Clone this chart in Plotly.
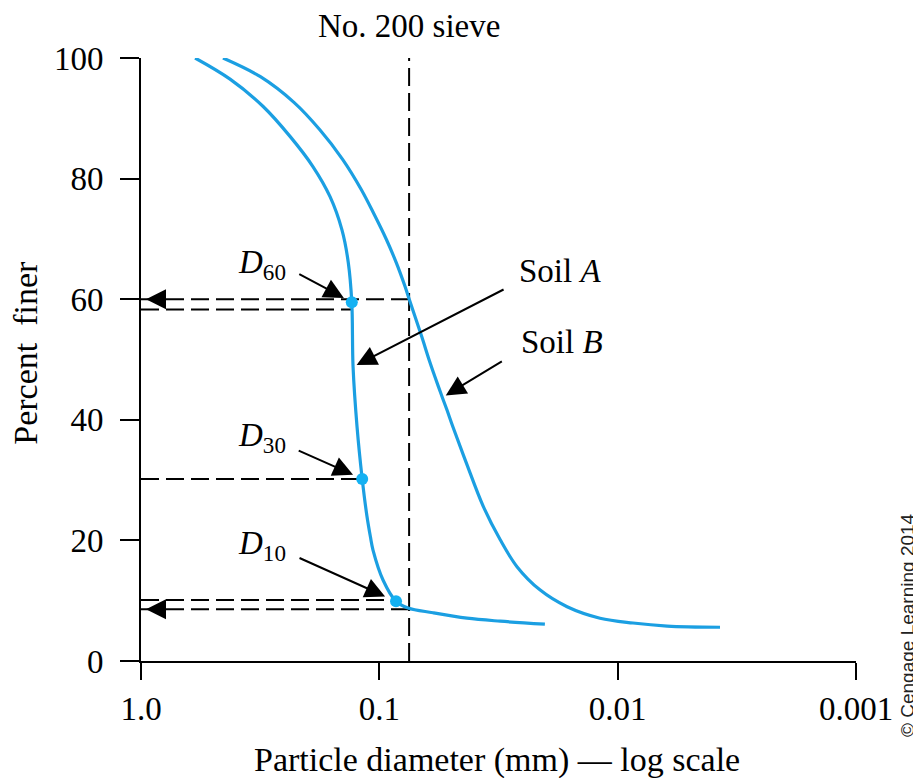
import numpy as np
import plotly.graph_objects as go

# ---------------- data ----------------
soil_a_diam = [0.593, 0.423, 0.308, 0.237, 0.190, 0.161, 0.1435, 0.135, 0.1305,
               0.1289, 0.124, 0.118, 0.1127, 0.1090, 0.1063, 0.0964, 0.0851, 0.0758,
               0.0596, 0.0429, 0.0311, 0.0202]
soil_a_finer = [100, 96.5, 92.0, 87.0, 82.0, 77.0, 71.5, 66.1, 59.5,
                48.8, 38.8, 30.2, 24.0, 20.6, 18.4, 13.4, 9.9, 8.8,
                8.0, 7.1, 6.6, 6.1]

soil_b_diam = [0.4529, 0.3155, 0.2276, 0.1777, 0.1426, 0.1191, 0.1049, 0.0934, 0.0850,
               0.0780, 0.0748, 0.0708, 0.0664, 0.0613, 0.0565, 0.0544, 0.0521, 0.0491,
               0.0432, 0.0366, 0.0311, 0.0264, 0.0212, 0.0163, 0.01186, 0.00862,
               0.00620, 0.00372]
soil_b_finer = [100, 96.9, 92.6, 88.1, 83.2, 78.2, 74.0, 69.9, 66.1,
                62.1, 59.9, 57.1, 53.8, 49.5, 45.5, 43.7, 41.7, 38.8,
                32.9, 25.6, 20.1, 15.6, 11.8, 9.0, 7.1, 6.3,
                5.8, 5.6]

sieve_no200 = 0.075                      # mm
pass200_b = 60.0                         # % finer than No. 200 sieve, soil B
pass200_a = 8.6                          # % finer than No. 200 sieve, soil A

d_names = ["60", "30", "10"]
d_diam = [0.1305, 0.118, 0.0851]         # D60, D30, D10 of soil A (mm)
d_finer = [59.5, 30.2, 9.9]
d_guide_finer = [58.3, 30.2, 10.1]

x_tick_vals = [1.0, 0.1, 0.01, 0.001]
x_tick_text = ["1.0", "0.1", "0.01", "0.001"]
y_tick_vals = [0, 20, 40, 60, 80, 100]

# ---------------- style ----------------
SERIF = "Liberation Serif, Times New Roman, serif"
CURVE = "#1b9fe2"
DOT = "#14b1f2"
DASH = "18px,7px"

fig = go.Figure()

def guide(xs, ys):
    fig.add_trace(go.Scatter(x=xs, y=ys, mode="lines",
                             line=dict(color="black", width=2, dash=DASH),
                             hoverinfo="skip", showlegend=False))

guide([sieve_no200, sieve_no200], [0, 100])
guide([1.0, sieve_no200], [pass200_b, pass200_b])
guide([1.0, sieve_no200], [pass200_a, pass200_a])
for dd, gy in zip(d_diam, d_guide_finer):
    guide([1.0, dd], [gy, gy])

fig.add_trace(go.Scatter(x=soil_a_diam, y=soil_a_finer, mode="lines",
                         line=dict(color=CURVE, width=3.2, shape="spline", smoothing=1.0),
                         name="Soil A", showlegend=False))
fig.add_trace(go.Scatter(x=soil_b_diam, y=soil_b_finer, mode="lines",
                         line=dict(color=CURVE, width=3.2, shape="spline", smoothing=1.0),
                         name="Soil B", showlegend=False))
fig.add_trace(go.Scatter(x=d_diam, y=d_finer, mode="markers",
                         marker=dict(color=DOT, size=12), showlegend=False))

ann = []
arrow = dict(text="", showarrow=True, arrowhead=2, arrowsize=2.0, arrowwidth=2,
             arrowcolor="black", xref="x", yref="y")

ann.append(dict(arrow, x=np.log10(1.0), y=pass200_b, ax=20, ay=0, standoff=5))
ann.append(dict(arrow, x=np.log10(1.0), y=pass200_a, ax=20, ay=0, standoff=5))

text_font = dict(family=SERIF, size=33, color="black")
d_label_y = [65.7, 37.0, 19.1]
d_arrow = [(-54, -29, 9), (-65, -29, 10), (-98, -44, 12)]
for name, dd, df, ly, (ax_, ay_, so) in zip(d_names, d_diam, d_finer, d_label_y, d_arrow):
    ann.append(dict(arrow, x=np.log10(dd), y=df, ax=ax_, ay=ay_, standoff=so))
    ann.append(dict(text=f"<i>D</i><sub>{name}</sub>", x=-0.508, y=ly, xref="x", yref="y",
                    showarrow=False, font=text_font))

iA = soil_a_finer.index(48.8)
ann.append(dict(arrow, x=np.log10(soil_a_diam[iA]), y=soil_a_finer[iA], ax=152, ay=-78, standoff=4))
ann.append(dict(text="Soil <i>A</i>", x=-1.758, y=64.6, xref="x", yref="y", showarrow=False,
                font=text_font))
iB = soil_b_finer.index(43.7)
ann.append(dict(arrow, x=np.log10(soil_b_diam[iB]), y=soil_b_finer[iB], ax=61, ay=-37, standoff=4))
ann.append(dict(text="Soil <i>B</i>", x=-1.767, y=52.9, xref="x", yref="y", showarrow=False,
                font=text_font))

ann.append(dict(text="No. 200 sieve", x=np.log10(sieve_no200), y=100, xref="x", yref="y",
                yanchor="bottom", yshift=12, showarrow=False, font=text_font))

ann.append(dict(text="Particle diameter (mm) \u2014 log scale", x=0.498, y=-0.164,
                xref="paper", yref="paper", xanchor="center", yanchor="middle",
                showarrow=False, font=dict(family=SERIF, size=34, color="black")))
ann.append(dict(text="Percent\u00a0 finer", x=-0.161, y=0.511, textangle=-90,
                xref="paper", yref="paper", xanchor="center", yanchor="middle",
                showarrow=False, font=dict(family=SERIF, size=34, color="black")))
ann.append(dict(text="\u00a9 Cengage Learning 2014", x=1.073, y=0.06, textangle=-90,
                xref="paper", yref="paper", xanchor="center", yanchor="middle",
                showarrow=False,
                font=dict(family="Liberation Sans Narrow, Liberation Sans, Arial, sans-serif",
                          size=19, color="#222222")))

# the page body has an 8px margin, so size/margins are reduced by 8px to keep the plot area in place
fig.update_layout(
    width=913, height=770,
    margin=dict(l=133, r=65, t=50, b=117),
    paper_bgcolor="white", plot_bgcolor="white",
    showlegend=False,
    annotations=ann,
    xaxis=dict(type="log", range=[0, -3], tickvals=x_tick_vals, ticktext=x_tick_text,
               showgrid=False, zeroline=False, showline=True, linecolor="black", linewidth=2,
               ticks="outside", ticklen=17, tickwidth=2, tickcolor="black",
               tickfont=dict(family=SERIF, size=33, color="black")),
    yaxis=dict(range=[0, 100], tickvals=y_tick_vals, showgrid=False, zeroline=False,
               showline=True, linecolor="black", linewidth=2,
               ticks="outside", ticklen=19, tickwidth=2, tickcolor="black",
               ticklabelstandoff=10,
               tickfont=dict(family=SERIF, size=33, color="black")),
)

fig.write_html("out.html")
